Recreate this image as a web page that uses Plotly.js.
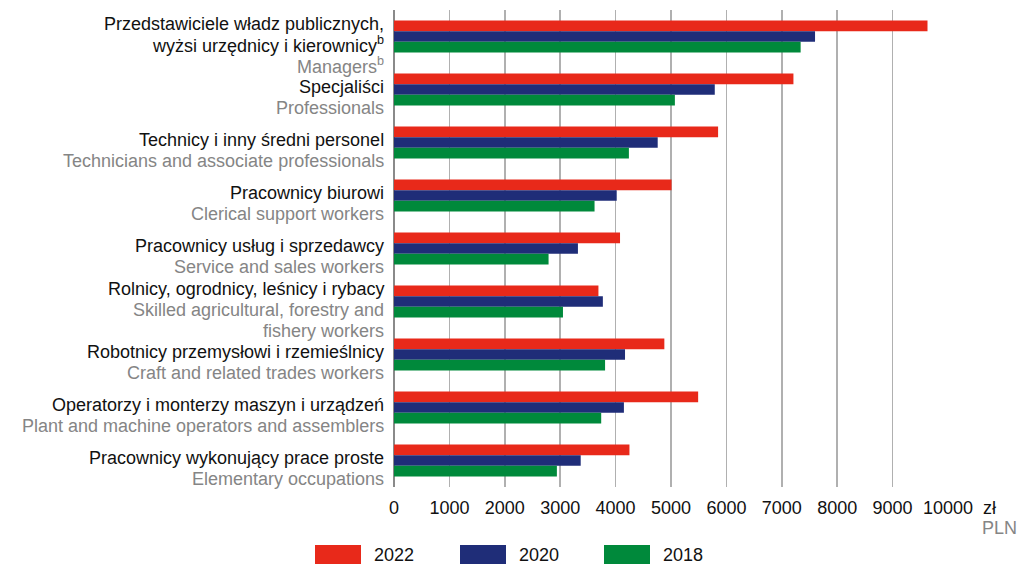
<!DOCTYPE html>
<html>
<head>
<meta charset="utf-8">
<script src="https://cdn.plot.ly/plotly-3.0.1.min.js"></script>
<style>html,body{margin:0;padding:0;background:#fff;}#chart{width:1020px;height:564px;}</style>
</head>
<body>
<div id="chart"></div>
<script>
// ---- data ----
var categoryKeys = ["MGR", "PRO", "TEC", "CLE", "SER", "AGR", "CRA", "OPE", "ELE"];
var labelsPL = [
  "Przedstawiciele władz publicznych,|wyżsi urzędnicy i kierownicy<sup>b</sup>",
  "Specjaliści",
  "Technicy i inny średni personel",
  "Pracownicy biurowi",
  "Pracownicy usług i sprzedawcy",
  "Rolnicy, ogrodnicy, leśnicy i rybacy",
  "Robotnicy przemysłowi i rzemieślnicy",
  "Operatorzy i monterzy maszyn i urządzeń",
  "Pracownicy wykonujący prace proste"
];
var labelsEN = [
  "Managers<sup>b</sup>",
  "Professionals",
  "Technicians and associate professionals",
  "Clerical support workers",
  "Service and sales workers",
  "Skilled agricultural, forestry and|fishery workers",
  "Craft and related trades workers",
  "Plant and machine operators and assemblers",
  "Elementary occupations"
];
var seriesNames = ["2022", "2020", "2018"];
var values2022 = [9630, 7210, 5850, 5010, 4080, 3690, 4880, 5490, 4250];
var values2020 = [7600, 5790, 4760, 4020, 3320, 3770, 4170, 4150, 3370];
var values2018 = [7340, 5070, 4240, 3620, 2790, 3050, 3810, 3740, 2940];
var tickValues = [0, 1000, 2000, 3000, 4000, 5000, 6000, 7000, 8000, 9000, 10000];
var unitLabel = "zł";
var unitLabelEN = "PLN";

// ---- style ----
var colors = ["#E8291A", "#1F2D78", "#00893B"];
var FONT = "Liberation Sans, Arial, sans-serif";
var BLACK = "#111111", GREY = "#858585";

var allValues = [values2022, values2020, values2018];
var traces = allValues.map(function (vals, i) {
  return {
    type: "bar", orientation: "h",
    name: seriesNames[i],
    x: vals, y: categoryKeys,
    marker: {color: colors[i], line: {width: 0}},
    hoverinfo: "x+name"
  };
});

var annotations = [];
var LINE = 21, OFFSET = 8;
categoryKeys.forEach(function (k, i) {
  var lines = [];
  labelsPL[i].split("|").forEach(function (t) { lines.push({t: t, c: BLACK}); });
  labelsEN[i].split("|").forEach(function (t) { lines.push({t: t, c: GREY}); });
  var n = lines.length;
  lines.forEach(function (ln, j) {
    annotations.push({
      xref: "paper", x: 0, xanchor: "right", xshift: -8,
      yref: "y", y: i, yanchor: "middle",
      yshift: -(OFFSET + (j - (n - 1) / 2) * LINE),
      text: ln.t, showarrow: false, align: "right",
      font: {family: FONT, size: 18, color: ln.c}
    });
  });
});
annotations.push({xref: "x", x: 10000, xanchor: "left", xshift: 33, yref: "paper", y: 0, yanchor: "middle", yshift: -21,
  text: unitLabel, showarrow: false, font: {family: FONT, size: 18, color: BLACK}});
annotations.push({xref: "x", x: 10000, xanchor: "right", xshift: 71, yref: "paper", y: 0, yanchor: "middle", yshift: -41,
  text: unitLabelEN, showarrow: false, font: {family: FONT, size: 18, color: GREY}});

// custom legend (wide swatches)
var shapes = [];
var legendLeft = [-79, 66, 210];
seriesNames.forEach(function (nm, i) {
  shapes.push({type: "rect", xref: "paper", xsizemode: "pixel", xanchor: 0,
    x0: legendLeft[i], x1: legendLeft[i] + 46,
    yref: "paper", ysizemode: "pixel", yanchor: 0, y0: -58, y1: -78,
    fillcolor: colors[i], line: {width: 0}});
  annotations.push({xref: "paper", x: 0, xanchor: "left", xshift: legendLeft[i] + 57,
    yref: "paper", y: 0, yanchor: "middle", yshift: -68,
    text: nm, showarrow: false, font: {family: FONT, size: 18, color: BLACK}});
});

var layout = {
  width: 1020, height: 564,
  margin: {l: 394, r: 72, t: 10, b: 77, pad: 0},
  paper_bgcolor: "#fff", plot_bgcolor: "#fff",
  barmode: "group", bargap: 0.4, bargroupgap: 0,
  showlegend: false,
  font: {family: FONT, size: 18, color: BLACK},
  xaxis: {
    range: [0, 10000], tickvals: tickValues, ticktext: tickValues.map(String),
    showgrid: true, gridcolor: "#b0b0b0", gridwidth: 1.5,
    zeroline: true, zerolinecolor: "#8a8a8a", zerolinewidth: 2.2,
    showline: false, ticks: "outside", ticklen: 4, tickcolor: "rgba(0,0,0,0)",
    tickfont: {family: FONT, size: 18, color: BLACK}, fixedrange: true
  },
  yaxis: {
    type: "category", categoryorder: "array", categoryarray: categoryKeys,
    range: [8.5, -0.5], autorange: false, showticklabels: false, showgrid: false,
    zeroline: false, showline: false, ticks: "", fixedrange: true
  },
  annotations: annotations,
  shapes: shapes
};

Plotly.newPlot("chart", traces, layout, {displayModeBar: false, staticPlot: true});
</script>
</body>
</html>
